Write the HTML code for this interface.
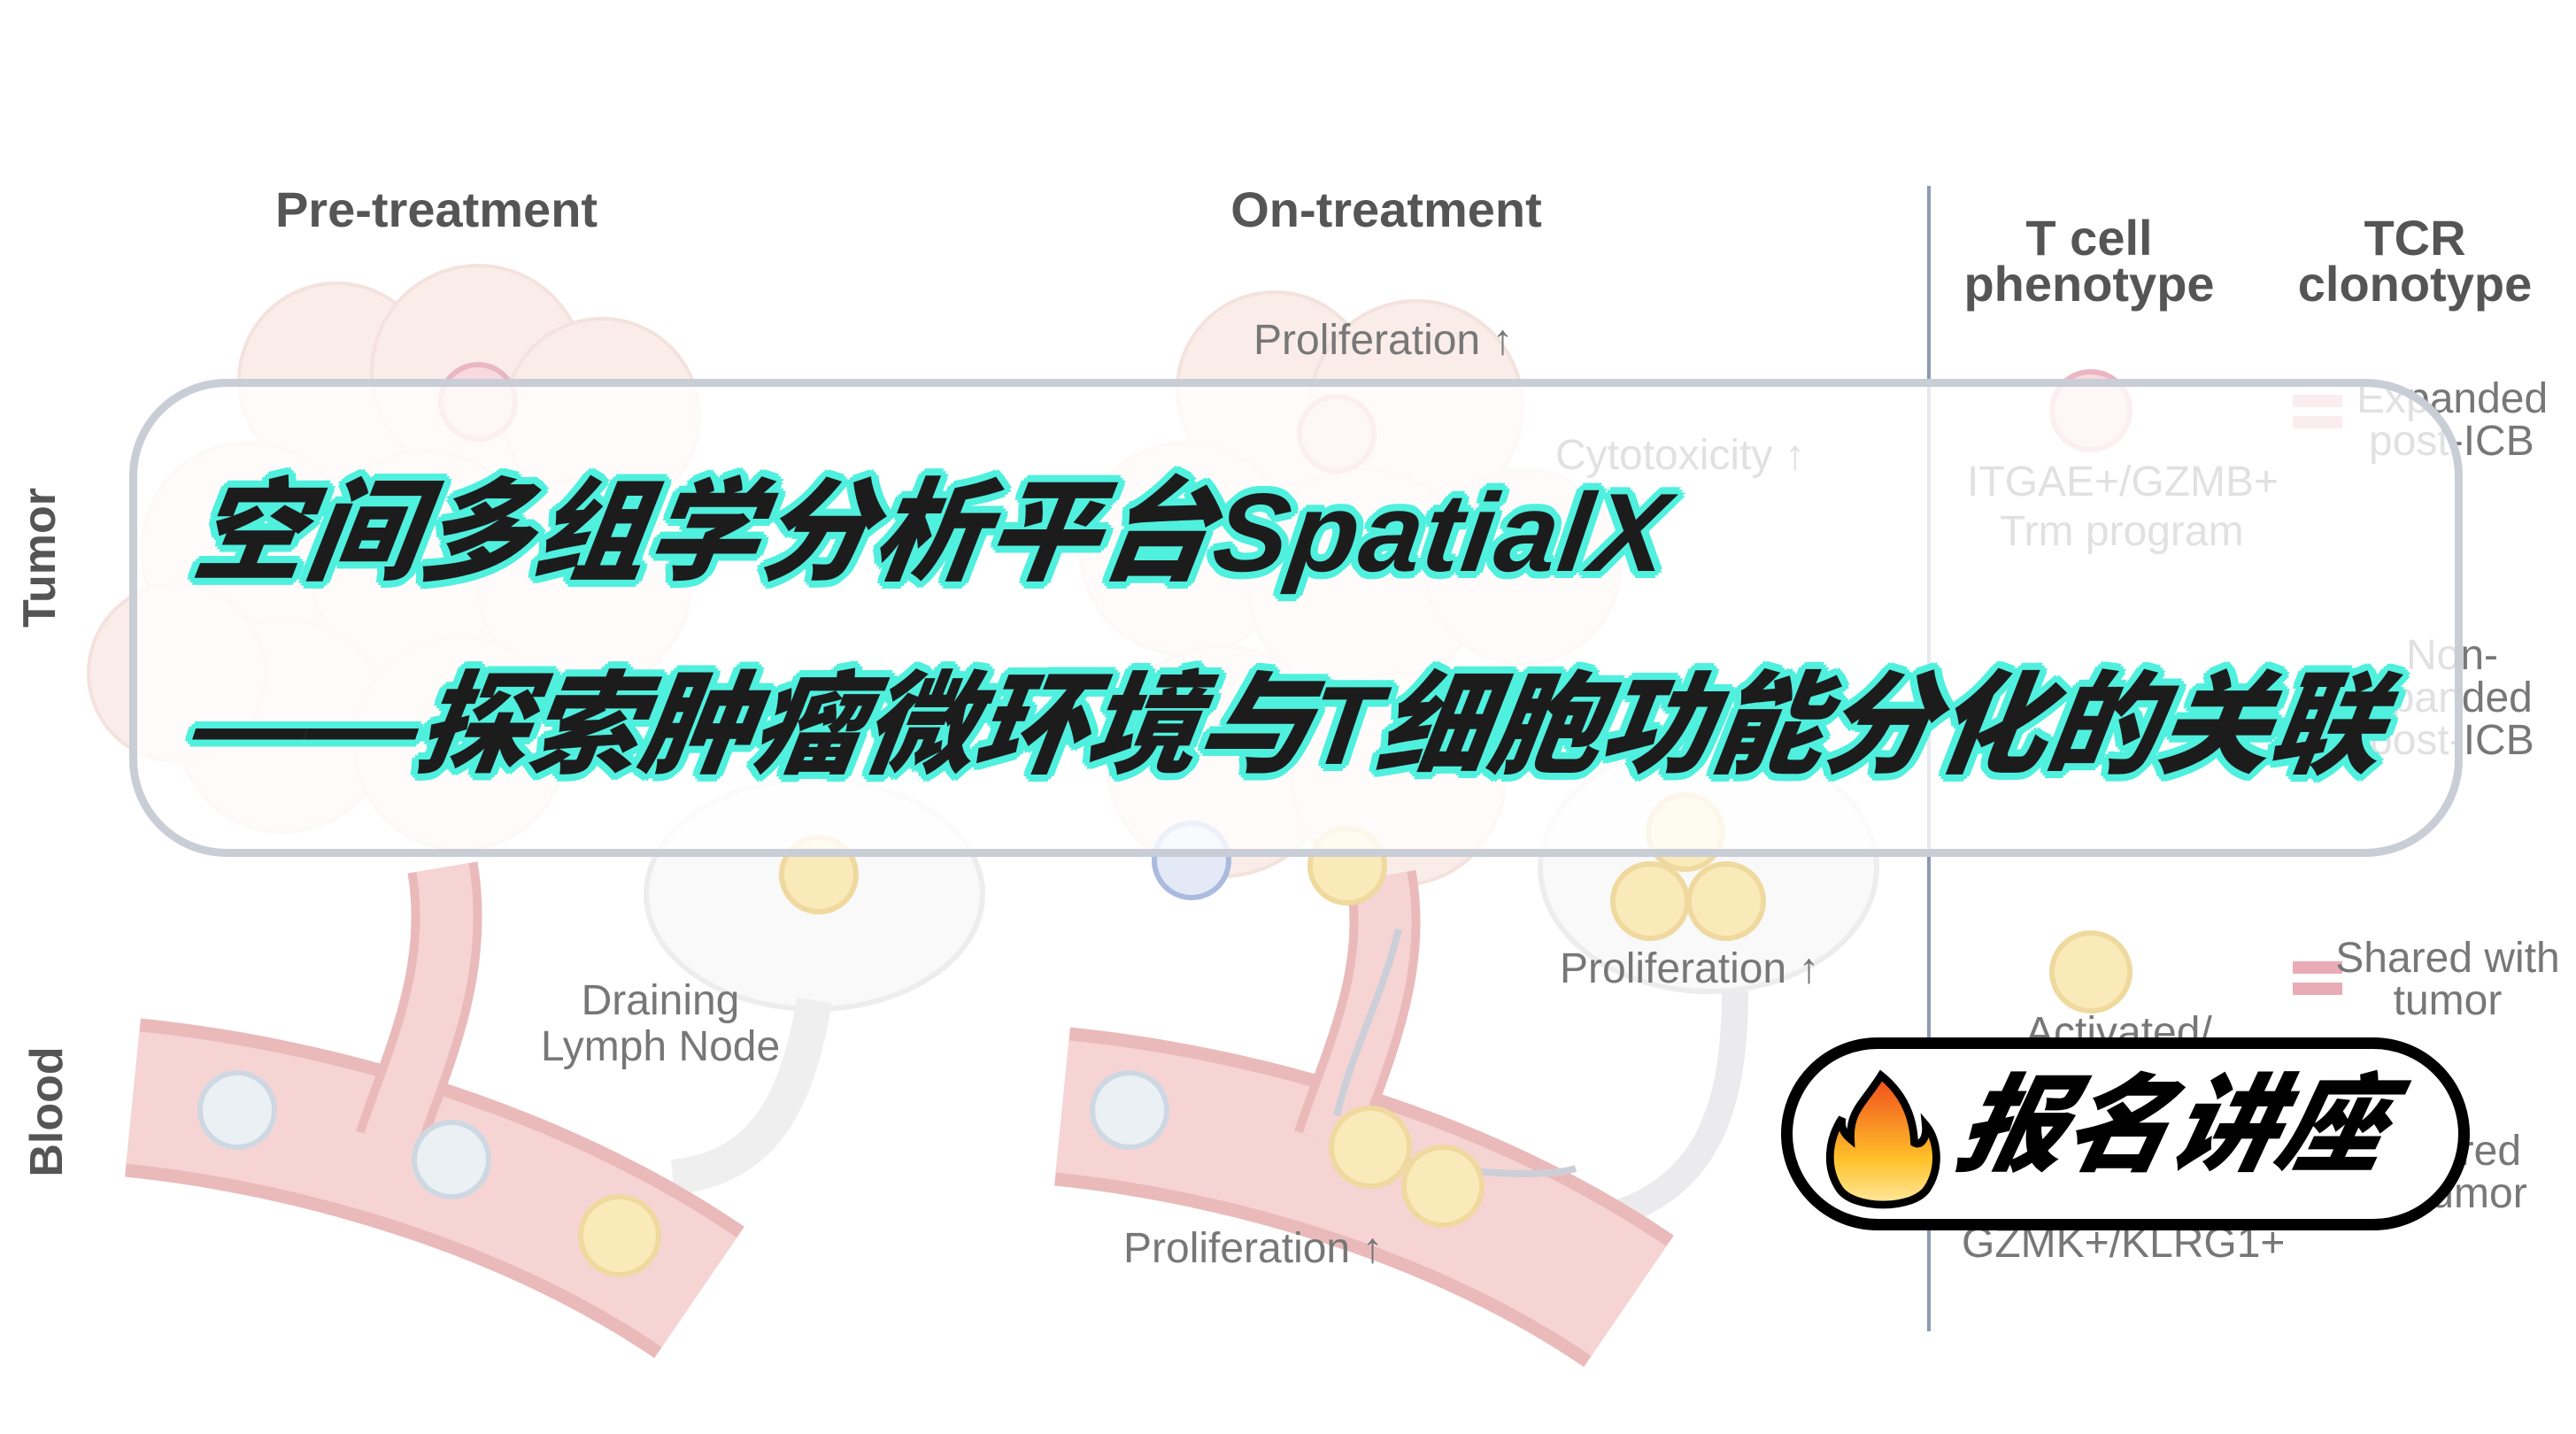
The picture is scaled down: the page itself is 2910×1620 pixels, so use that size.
<!DOCTYPE html>
<html><head><meta charset="utf-8"><style>
html,body{margin:0;padding:0;background:#fff;width:2910px;height:1620px;overflow:hidden;position:relative}
svg{position:absolute;left:0;top:0}
.t{font-family:"Liberation Sans",sans-serif;fill:#666}
.box{position:absolute;left:146px;top:428px;width:2636px;height:540px;border:9px solid #c9cdd6;border-radius:110px;background:rgba(255,255,255,0.78);box-sizing:border-box}
.title{position:absolute;font-family:"Liberation Sans","Noto Sans CJK SC",sans-serif;font-weight:900;font-style:italic;font-size:126px;color:#1c1c1c;white-space:nowrap;
text-shadow:6px 0 0 #4ff0de,-6px 0 0 #4ff0de,0 6px 0 #4ff0de,0 -6px 0 #4ff0de,5px 5px 0 #4ff0de,-5px 5px 0 #4ff0de,5px -5px 0 #4ff0de,-5px -5px 0 #4ff0de,8px 2px 0 #4ff0de,-8px 2px 0 #4ff0de,2px 8px 0 #4ff0de,-2px -8px 0 #4ff0de,8px -2px 0 #4ff0de,-8px -2px 0 #4ff0de,2px -8px 0 #4ff0de,-2px 8px 0 #4ff0de;transform:skewX(-8deg)}
.pill{position:absolute;left:2012px;top:1172px;width:778px;height:218px;border:13px solid #000;border-radius:109px;background:#fff;box-sizing:border-box}
.pt{position:absolute;left:2215px;top:1200px;font-family:"Liberation Sans","Noto Sans CJK SC",sans-serif;font-weight:900;font-style:italic;font-size:120px;color:#000;transform:skewX(-12deg);white-space:nowrap;line-height:1.2}
</style></head><body>
<svg width="2910" height="1620" viewBox="0 0 2910 1620">
<g opacity="0.5">
 <g fill="#f6ddd5" stroke="#e9c6bd" stroke-width="4">
  <circle cx="380" cy="430" r="110"/><circle cx="540" cy="420" r="120"/><circle cx="680" cy="470" r="110"/>
  <circle cx="280" cy="620" r="120"/><circle cx="480" cy="640" r="130"/><circle cx="660" cy="660" r="120"/>
  <circle cx="320" cy="820" r="120"/><circle cx="520" cy="840" r="120"/><circle cx="200" cy="760" r="100"/>
  <circle cx="1440" cy="440" r="110"/><circle cx="1600" cy="460" r="120"/><circle cx="1340" cy="620" r="120"/>
  <circle cx="1540" cy="660" r="130"/><circle cx="1720" cy="640" r="110"/><circle cx="1380" cy="860" r="130"/><circle cx="1580" cy="880" r="120"/>
 </g>
 <g fill="#f4f4f4" stroke="#dcdcdc" stroke-width="6">
  <ellipse cx="920" cy="1010" rx="190" ry="130"/>
  <ellipse cx="1930" cy="980" rx="190" ry="140"/>
 </g>
 <path d="M920 1130 C 900 1250, 860 1320, 760 1330" stroke="#e0e0e0" stroke-width="40" fill="none"/>
 <path d="M1960 1120 C 1960 1300, 1900 1380, 1720 1390" stroke="#d8d8dd" stroke-width="30" fill="none"/>
 <g fill="none" stroke-linecap="butt">
  <path d="M150 1240 C 350 1260, 600 1330, 790 1460" stroke="#d77878" stroke-width="180"/>
  <path d="M150 1240 C 350 1260, 600 1330, 790 1460" stroke="#eeaaaa" stroke-width="150"/>
  <path d="M500 980 C 520 1100, 470 1200, 440 1290" stroke="#d77878" stroke-width="80"/>
  <path d="M500 980 C 520 1100, 470 1200, 440 1290" stroke="#eeaaaa" stroke-width="60"/>
  <path d="M1200 1250 C 1400 1270, 1650 1340, 1840 1470" stroke="#d77878" stroke-width="180"/>
  <path d="M1200 1250 C 1400 1270, 1650 1340, 1840 1470" stroke="#eeaaaa" stroke-width="150"/>
  <path d="M1560 990 C 1580 1100, 1530 1200, 1500 1290" stroke="#d77878" stroke-width="80"/>
  <path d="M1560 990 C 1580 1100, 1530 1200, 1500 1290" stroke="#eeaaaa" stroke-width="60"/>
  <path d="M1510 1260 C 1530 1180, 1560 1130, 1580 1050" stroke="#9aa0b0" stroke-width="8"/>
  <path d="M1540 1300 C 1650 1330, 1750 1330, 1780 1320" stroke="#9aa0b0" stroke-width="8"/>
 </g>
 <g stroke-width="6">
  <circle cx="268" cy="1254" r="42" fill="#d8e2ec" stroke="#9fb3c6"/>
  <circle cx="510" cy="1310" r="42" fill="#d8e2ec" stroke="#9fb3c6"/>
  <circle cx="700" cy="1396" r="44" fill="#f6d777" stroke="#e0b540"/>
  <circle cx="925" cy="988" r="42" fill="#f6d777" stroke="#e0b540"/>
  <circle cx="1276" cy="1254" r="42" fill="#d8e2ec" stroke="#9fb3c6"/>
  <circle cx="1548" cy="1296" r="44" fill="#f6d777" stroke="#e0b540"/>
  <circle cx="1630" cy="1340" r="44" fill="#f6d777" stroke="#e0b540"/>
  <circle cx="1522" cy="978" r="42" fill="#f6d777" stroke="#e0b540"/>
  <circle cx="1346" cy="972" r="42" fill="#c8d4ee" stroke="#5a78c0"/>
  <circle cx="1864" cy="1018" r="42" fill="#f6d777" stroke="#e0b540"/>
  <circle cx="1950" cy="1018" r="42" fill="#f6d777" stroke="#e0b540"/>
  <circle cx="1904" cy="940" r="42" fill="#f6d777" stroke="#e0b540"/>
  <circle cx="2362" cy="1098" r="44" fill="#f6d777" stroke="#e0b540"/>
  <circle cx="540" cy="454" r="42" fill="#f0b5c0" stroke="#d87088"/>
  <circle cx="1510" cy="490" r="42" fill="#f0b5c0" stroke="#d87088"/>
  <circle cx="2362" cy="464" r="44" fill="#f0b5c0" stroke="#d87088"/>
 </g>
 <g fill="#d45a70"><rect x="2590" y="446" width="56" height="14"/><rect x="2590" y="470" width="56" height="14"/>
 <rect x="2590" y="1086" width="56" height="14"/><rect x="2590" y="1110" width="56" height="14"/></g>
</g>
<line x1="2179" y1="210" x2="2179" y2="1504" stroke="#8d9ab5" stroke-width="4"/>
<g class="t" font-weight="bold" font-size="56" fill="#555">
 <text x="493" y="256" text-anchor="middle" fill="#555">Pre-treatment</text>
 <text x="1566" y="256" text-anchor="middle" fill="#555">On-treatment</text>
 <text x="2360" y="288" text-anchor="middle" fill="#555">T cell</text>
 <text x="2360" y="340" text-anchor="middle" fill="#555">phenotype</text>
 <text x="2728" y="288" text-anchor="middle" fill="#555">TCR</text>
 <text x="2728" y="340" text-anchor="middle" fill="#555">clonotype</text>
 <text transform="translate(62,630) rotate(-90)" text-anchor="middle" fill="#555" font-size="52">Tumor</text>
 <text transform="translate(70,1256) rotate(-90)" text-anchor="middle" fill="#555" font-size="52">Blood</text>
</g>
<g class="t" font-size="48" fill="#777">
 <text x="1416" y="400" fill="#777">Proliferation ↑</text>
 <text x="1757" y="530" fill="#777">Cytotoxicity ↑</text>
 <text x="2222" y="560" fill="#777">ITGAE+/GZMB+</text>
 <text x="2259" y="616" fill="#777">Trm program</text>
 <text x="2662" y="466" fill="#777">Expanded</text>
 <text x="2676" y="514" fill="#777">post-ICB</text>
 <text x="2718" y="756" fill="#777">Non-</text>
 <text x="2650" y="804" fill="#777">expanded</text>
 <text x="2676" y="852" fill="#777">post-ICB</text>
 <text x="746" y="1146" text-anchor="middle" fill="#777">Draining</text>
 <text x="746" y="1198" text-anchor="middle" fill="#777">Lymph Node</text>
 <text x="1762" y="1110" fill="#777">Proliferation ↑</text>
 <text x="2765" y="1098" text-anchor="middle" fill="#777">Shared with</text>
 <text x="2765" y="1146" text-anchor="middle" fill="#777">tumor</text>
 <text x="1269" y="1426" fill="#777">Proliferation ↑</text>
 <text x="2216" y="1420" fill="#777">GZMK+/KLRG1+</text>
 <text x="2288" y="1182" fill="#777">Activated/</text>
 <text x="2800" y="1316" text-anchor="middle" fill="#777">ared</text>
 <text x="2800" y="1364" text-anchor="middle" fill="#777">umor</text>
</g>
</svg>
<div class="box"></div>
<div class="title" style="left:222px;top:500px;letter-spacing:2px">空间多组学分析平台SpatialX</div>
<div class="title" style="left:222px;top:718px;letter-spacing:0px">——探索肿瘤微环境与T细胞功能分化的关联</div>
<div class="pill"></div>
<svg width="2910" height="1620" viewBox="0 0 2910 1620" style="pointer-events:none">
 <defs><linearGradient id="f" x1="0" y1="1" x2="0" y2="0"><stop offset="0" stop-color="#ffe9a0"/><stop offset="0.35" stop-color="#ffc12a"/><stop offset="1" stop-color="#f04a1c"/></linearGradient></defs>
 <g transform="translate(2125,1215) scale(0.8) translate(-2105,-1210)">
 <path d="M2105 1210 C 2080 1250, 2060 1260, 2062 1300 C 2050 1290, 2048 1280, 2050 1270 C 2030 1300, 2026 1340, 2046 1370 C 2066 1400, 2150 1400, 2170 1370 C 2190 1340, 2185 1300, 2168 1280 C 2170 1300, 2160 1310, 2152 1305 C 2150 1260, 2130 1230, 2105 1210 Z" fill="url(#f)" stroke="#000" stroke-width="11"/>
 </g>
</svg>
<div class="pt">报名讲座</div>
</body></html>
